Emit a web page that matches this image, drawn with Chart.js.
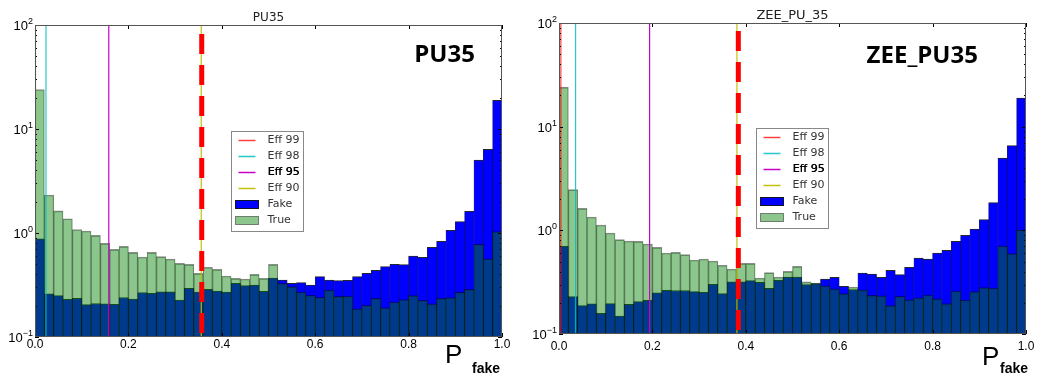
<!DOCTYPE html>
<html>
<head>
<meta charset="utf-8">
<script src="https://cdn.jsdelivr.net/npm/chart.js@4.4.1/dist/chart.umd.min.js"></script>
<style>
  html, body { margin: 0; padding: 0; background: #fff; }
  .panel { position: absolute; top: 0; height: 379px; }
  #left { left: 0; width: 522px; }
  #right { left: 522px; width: 523px; }
</style>
</head>
<body>
<div class="panel" id="left"><canvas id="pu35Chart" width="522" height="379"></canvas></div>
<div class="panel" id="right"><canvas id="zeeChart" width="523" height="379"></canvas></div>
<script>
// 50 bins of width 0.02 on P_fake
const binCenters = Array.from({ length: 50 }, (_, i) => +(0.01 + 0.02 * i).toFixed(2));
const yDecades = [0.1, 1, 10, 100];
const yExponents = ['\u22121', '0', '1', '2'];
const effLabels = ['Eff 99', 'Eff 98', 'Eff 95', 'Eff 90'];

// PU35
const pu35Fake = [0.88, 0.26, 0.25, 0.23, 0.235, 0.205, 0.21, 0.208, 0.206, 0.24,
  0.232, 0.268, 0.263, 0.272, 0.272, 0.227, 0.294, 0.271, 0.287, 0.277,
  0.271, 0.328, 0.312, 0.316, 0.275, 0.369, 0.353, 0.328, 0.333, 0.316,
  0.380, 0.353, 0.348, 0.350, 0.380, 0.409, 0.437, 0.475, 0.500, 0.496,
  0.601, 0.583, 0.728, 0.832, 1.06, 1.285, 1.62, 5.03, 6.37, 18.9];
const pu35True = [24.0, 2.32, 1.63, 1.37, 1.08, 1.045, 0.95, 0.796, 0.697, 0.744,
  0.652, 0.588, 0.652, 0.592, 0.562, 0.51, 0.50, 0.409, 0.468, 0.447,
  0.386, 0.366, 0.361, 0.400, 0.366, 0.500, 0.328, 0.305, 0.271, 0.252,
  0.241, 0.283, 0.246, 0.248, 0.187, 0.202, 0.235, 0.191, 0.217, 0.229,
  0.250, 0.225, 0.208, 0.235, 0.239, 0.269, 0.287, 0.778, 0.566, 1.03];
const pu35Eff = [0.001, 0.0235, 0.158, 0.356];
const pu35Cut = [0.357];

// ZEE_PU_35
const zeeFake = [0.7, 0.229, 0.188, 0.195, 0.158, 0.196, 0.149, 0.193, 0.205, 0.211,
  0.249, 0.264, 0.263, 0.263, 0.256, 0.252, 0.301, 0.245, 0.318, 0.318,
  0.327, 0.315, 0.276, 0.330, 0.355, 0.355, 0.299, 0.306, 0.339, 0.352,
  0.288, 0.268, 0.388, 0.379, 0.352, 0.411, 0.374, 0.440, 0.541, 0.529,
  0.604, 0.641, 0.783, 0.895, 1.03, 1.27, 1.85, 4.99, 6.56, 18.9];
const zeeTrue = [24.1, 2.47, 1.63, 1.345, 1.126, 0.942, 0.813, 0.789, 0.783, 0.738,
  0.686, 0.604, 0.613, 0.582, 0.517, 0.529, 0.506, 0.460, 0.424, 0.480,
  0.480, 0.347, 0.391, 0.355, 0.402, 0.449, 0.318, 0.310, 0.292, 0.272,
  0.245, 0.284, 0.266, 0.236, 0.234, 0.188, 0.231, 0.214, 0.223, 0.238,
  0.218, 0.196, 0.260, 0.213, 0.256, 0.280, 0.278, 0.706, 0.596, 1.01];
const zeeEff = [0.004, 0.0355, 0.194, 0.381];
const zeeCut = [0.384];

const effColors = ['rgba(255,0,0,0.75)', 'rgba(0,191,191,0.85)', 'rgb(200,0,200)', 'rgba(191,191,0,0.95)'];

// frame, inner ticks, y labels, legend and the extra texts
const decor = {
  id: 'decor',
  afterDatasetsDraw(chart, args, opts) {
    const { ctx, chartArea: a, scales: { x, y } } = chart;
    ctx.save();

    ctx.strokeStyle = '#000';
    ctx.lineWidth = 1;
    ctx.beginPath();
    x.ticks.forEach(t => {
      const px = Math.round(x.getPixelForValue(t.value)) + 0.5;
      ctx.moveTo(px, a.bottom); ctx.lineTo(px, a.bottom - 4);
      ctx.moveTo(px, a.top); ctx.lineTo(px, a.top + 4);
    });
    yDecades.forEach(d => {
      for (let m = 1; m < 10; m++) {
        const v = d * m;
        if (v > yDecades[yDecades.length - 1] * 1.0001) break;
        const py = Math.round(y.getPixelForValue(v)) + 0.5;
        const len = m === 1 ? 4 : 2;
        ctx.moveTo(a.left, py); ctx.lineTo(a.left + len, py);
        ctx.moveTo(a.right, py); ctx.lineTo(a.right - len, py);
      }
    });
    ctx.stroke();

    ctx.strokeStyle = '#555';
    ctx.strokeRect(Math.round(a.left) + 0.5, Math.round(a.top) + 0.5, Math.round(a.width) - 1, Math.round(a.height) - 1);

    // y tick labels 10^n
    ctx.fillStyle = '#000';
    ctx.textBaseline = 'alphabetic';
    yDecades.forEach((d, i) => {
      const py = y.getPixelForValue(d);
      ctx.font = '9px "Liberation Sans"';
      const we = ctx.measureText(yExponents[i]).width;
      ctx.font = '13px "Liberation Sans"';
      const wb = ctx.measureText('10').width;
      const x0 = a.left - 2 - we - wb;
      ctx.fillText('10', x0, py + 5);
      ctx.font = '9px "Liberation Sans"';
      ctx.fillText(yExponents[i], x0 + wb, py - 1);
    });

    // small title
    ctx.fillStyle = '#222';
    ctx.textAlign = 'center';
    ctx.font = opts.titleSize + 'px "DejaVu Sans"';
    ctx.fillText(opts.title, (a.left + a.right) / 2, opts.titleBase);

    // big tag
    ctx.fillStyle = '#000';
    ctx.textAlign = 'right';
    ctx.font = 'bold 24px "Open Sans"';
    ctx.fillText(opts.tag, a.left + opts.tagRight * a.width, a.top + opts.tagBase * a.height);

    // axis label P_fake
    ctx.textAlign = 'left';
    ctx.font = '26px "Liberation Sans"';
    ctx.fillText('P', a.right + opts.pDx, a.bottom + opts.pBase);
    ctx.font = 'bold 14px "Liberation Sans"';
    ctx.fillText('fake', a.right + opts.fDx, a.bottom + opts.fBase);

    // legend
    const items = chart.data.datasets.filter(d => d.inLegend !== false);
    const bx = Math.round(a.left + opts.legendLeft * a.width) + 0.5;
    const by = Math.round(a.top + opts.legendTop * a.height) + 0.5;
    ctx.fillStyle = '#fff';
    ctx.fillRect(bx, by, 72, 100);
    ctx.strokeStyle = '#888';
    ctx.strokeRect(bx, by, 72, 100);
    ctx.textBaseline = 'middle';
    items.forEach((d, i) => {
      const cy = by + 9 + i * 16;
      if (d.type === 'line') {
        ctx.strokeStyle = d.borderColor;
        ctx.lineWidth = 1.5;
        ctx.beginPath();
        ctx.moveTo(bx + 7, cy); ctx.lineTo(bx + 24, cy);
        ctx.stroke();
      } else {
        ctx.fillStyle = d.backgroundColor;
        ctx.fillRect(bx + 4, cy - 4, 23, 8);
        ctx.strokeStyle = d.borderColor;
        ctx.lineWidth = 1;
        ctx.strokeRect(bx + 4, cy - 4, 23, 8);
      }
      ctx.fillStyle = d.label === 'Eff 95' ? '#000' : '#333';
      ctx.font = '11px "DejaVu Sans"';
      ctx.fillText(d.label, bx + 36, cy);
      if (d.label === 'Eff 95') ctx.fillText(d.label, bx + 36.4, cy);
    });
    ctx.restore();
  }
};

function histChart(canvasId, fake, truth, eff, cut, look) {
  const ctx = document.getElementById(canvasId);
  const vline = (v) => [{ x: v, y: yDecades[0] }, { x: v, y: yDecades[yDecades.length - 1] }];

  const datasets = effLabels.map((label, i) => ({
    type: 'line',
    label: label,
    data: vline(eff[i]),
    borderColor: effColors[i],
    borderWidth: 1.2,
    pointRadius: 0,
    order: 4 - i
  }));
  datasets.push({
    type: 'bar',
    label: 'Fake',
    data: binCenters.map((c, i) => ({ x: c, y: fake[i] })),
    backgroundColor: '#0000ff',
    borderColor: 'rgba(0,0,0,0.85)',
    borderWidth: { top: 1, left: 0.5, right: 0.5, bottom: 0 },
    order: 10
  });
  datasets.push({
    type: 'bar',
    label: 'True',
    data: binCenters.map((c, i) => ({ x: c, y: truth[i] })),
    backgroundColor: 'rgba(0,128,0,0.45)',
    borderColor: 'rgba(0,0,0,0.45)',
    borderWidth: { top: 1, left: 0.5, right: 0.5, bottom: 0 },
    order: 9
  });
  datasets.push({
    type: 'line',
    label: 'cut',
    inLegend: false,
    data: vline(cut[0]),
    borderColor: '#ff0000',
    borderWidth: 5,
    borderDash: [20, 11],
    borderDashOffset: 27,
    pointRadius: 0,
    order: 0
  });

  new Chart(ctx, {
    type: 'bar',
    data: { datasets: datasets },
    options: {
      responsive: false,
      animation: false,
      events: [],
      layout: { padding: { top: look.padTop, right: look.padRight, left: 0, bottom: 0 } },
      datasets: { bar: { grouped: false, barPercentage: 1, categoryPercentage: 1 } },
      plugins: {
        legend: { display: false },
        tooltip: { enabled: false },
        decor: look
      },
      scales: {
        x: {
          type: 'linear',
          min: 0,
          max: 1,
          offset: false,
          grid: { display: false, drawTicks: false },
          border: { display: false },
          afterFit: s => { s.height = look.xHeight; },
          ticks: {
            stepSize: 0.2,
            padding: look.tickPad,
            maxRotation: 0,
            autoSkip: false,
            color: '#000',
            font: { family: '"Liberation Sans"', size: 12 },
            callback: v => v.toFixed(1)
          }
        },
        y: {
          type: 'logarithmic',
          min: yDecades[0],
          max: yDecades[yDecades.length - 1],
          grid: { display: false, drawTicks: false },
          border: { display: false },
          ticks: { display: false },
          afterFit: s => { s.width = look.yWidth; }
        }
      }
    },
    plugins: [decor]
  });
}

histChart('pu35Chart', pu35Fake, pu35True, pu35Eff, pu35Cut, {
  title: 'PU35', titleSize: 12, titleBase: 21, tag: 'PU35', tagRight: 0.942, tagBase: 0.119,
  legendLeft: 0.42, legendTop: 0.34, pDx: -57, pBase: 26, fDx: -30, fBase: 36,
  yWidth: 35, xHeight: 42, padTop: 25, padRight: 20, tickPad: 0
});
histChart('zeeChart', zeeFake, zeeTrue, zeeEff, zeeCut, {
  title: 'ZEE_PU_35', titleSize: 13, titleBase: 19, tag: 'ZEE_PU35', tagRight: 0.897, tagBase: 0.129,
  legendLeft: 0.422, legendTop: 0.338, pDx: -44, pBase: 31, fDx: -26, fBase: 39,
  yWidth: 37, xHeight: 45, padTop: 23, padRight: 19, tickPad: 5
});
</script>
</body>
</html>
